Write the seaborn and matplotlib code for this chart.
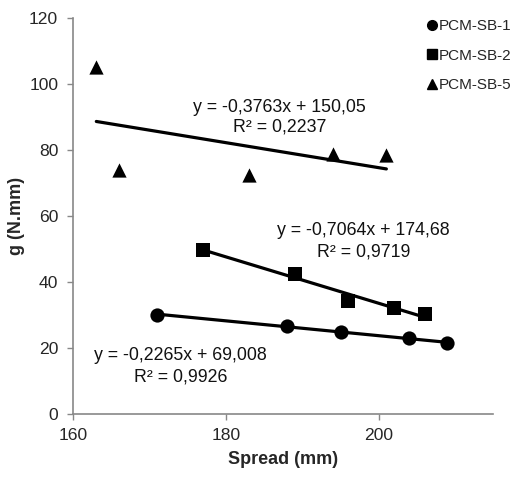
import matplotlib
matplotlib.use("Agg")
import matplotlib.pyplot as plt
from matplotlib.lines import Line2D
import seaborn as sns
import pandas as pd

# data
sb1_x = [171, 188, 195, 204, 209]
sb1_y = [30.0, 26.6, 24.8, 23.0, 21.3]
sb2_x = [177, 189, 196, 202, 206]
sb2_y = [49.7, 42.4, 34.2, 31.9, 30.3]
sb5_x = [163, 166, 183, 194, 201]
sb5_y = [105.0, 73.8, 72.3, 78.7, 78.4]

series_names = ["PCM-SB-1", "PCM-SB-2", "PCM-SB-5"]
markers = ["o", "s", "^"]
equations = [
    ("y = -0,2265x + 69,008", "R² = 0,9926", 174.0, 17.8, 11.2),
    ("y = -0,7064x + 174,68", "R² = 0,9719", 198.0, 55.6, 49.0),
    ("y = -0,3763x + 150,05", "R² = 0,2237", 187.0, 92.9, 86.9),
]

sns.set_style("white")
plt.rcParams["font.family"] = ["Liberation Sans", "DejaVu Sans"]

fig = plt.figure(figsize=(5.17, 4.78), dpi=100)
ax = fig.add_axes([0.142, 0.1345, 0.812, 0.828])

all_x = [sb1_x, sb2_x, sb5_x]
all_y = [sb1_y, sb2_y, sb5_y]
for xs, ys, m in zip(all_x, all_y, markers):
    df = pd.DataFrame({"x": xs, "y": ys})
    sns.regplot(data=df, x="x", y="y", ax=ax, ci=None, marker=m, color="black",
                scatter_kws={"s": 105, "alpha": 1, "linewidths": 0},
                line_kws={"lw": 2.3})

for eq, r2, tx, ty1, ty2 in equations:
    ax.text(tx, ty1, eq, ha="center", va="center", fontsize=12.8, color="#111111")
    ax.text(tx, ty2, r2, ha="center", va="center", fontsize=12.8, color="#111111")

ax.set_xlim(160, 215)
ax.set_ylim(0, 120)
ax.set_xticks([160, 180, 200])
ax.set_yticks(range(0, 121, 20))
ax.set_xlabel("Spread (mm)", fontsize=13, fontweight="bold", labelpad=6)
ax.set_ylabel("g (N.mm)", fontsize=13, fontweight="bold", labelpad=3)
ax.tick_params(axis="both", labelsize=12.6, direction="out", length=4,
               color="#888888", width=1, bottom=True, left=True)
ax.tick_params(axis="x", pad=6)
ax.tick_params(axis="y", pad=7)
for side in ["top", "right"]:
    ax.spines[side].set_visible(False)
for side in ["left", "bottom"]:
    ax.spines[side].set_color("#888888")
    ax.spines[side].set_linewidth(1.2)

handles = [Line2D([], [], ls="none", marker=m, color="black", markersize=7)
           for m in markers]
fig.legend(handles, series_names, loc="upper left", bbox_to_anchor=(0.814, 0.972),
           frameon=False, fontsize=11, handlelength=0.6, handletextpad=0.15,
           labelspacing=1.0, borderaxespad=0)

fig.savefig("out.png", dpi=100)
